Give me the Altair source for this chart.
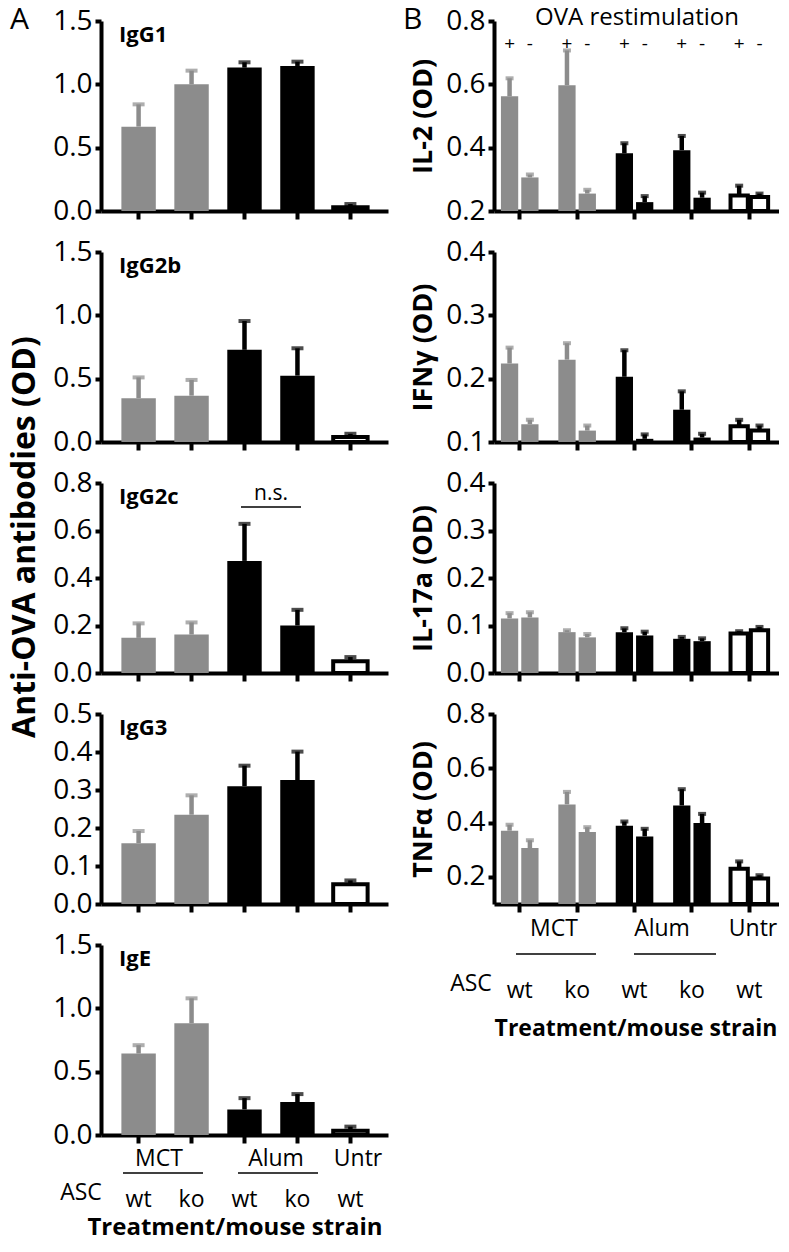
import altair as alt
import pandas as pd

# ---------------- data ----------------
groups = ["MCT wt", "MCT ko", "Alum wt", "Alum ko", "Untr wt"]
strains = ["wt", "ko", "wt", "ko", "wt"]
kinds = ["gray", "gray", "black", "black", "open"]

igg1_mean = [0.666, 1.000, 1.132, 1.145, 0.030]
igg1_sd = [0.176, 0.108, 0.042, 0.034, 0.025]
igg2b_mean = [0.346, 0.366, 0.728, 0.524, 0.040]
igg2b_sd = [0.164, 0.124, 0.227, 0.216, 0.025]
igg2c_mean = [0.148, 0.162, 0.472, 0.200, 0.050]
igg2c_sd = [0.061, 0.051, 0.156, 0.066, 0.017]
igg3_mean = [0.160, 0.235, 0.310, 0.326, 0.052]
igg3_sd = [0.032, 0.051, 0.054, 0.075, 0.010]
ige_mean = [0.643, 0.882, 0.202, 0.260, 0.034]
ige_sd = [0.066, 0.197, 0.089, 0.063, 0.032]

restim = ["+", "-"]
# order: MCT wt +, MCT wt -, MCT ko +, MCT ko -, Alum wt +, Alum wt -, Alum ko +, Alum ko -, Untr wt +, Untr wt -
il2_mean = [0.562, 0.306, 0.597, 0.255, 0.382, 0.228, 0.392, 0.242, 0.249, 0.244]
il2_sd = [0.057, 0.009, 0.110, 0.012, 0.032, 0.019, 0.045, 0.016, 0.031, 0.011]
ifng_mean = [0.224, 0.128, 0.230, 0.118, 0.203, 0.105, 0.151, 0.107, 0.125, 0.118]
ifng_sd = [0.025, 0.007, 0.026, 0.008, 0.042, 0.007, 0.029, 0.006, 0.010, 0.008]
il17_mean = [0.115, 0.117, 0.086, 0.075, 0.086, 0.079, 0.072, 0.067, 0.083, 0.090]
il17_sd = [0.011, 0.011, 0.004, 0.007, 0.008, 0.008, 0.004, 0.006, 0.005, 0.007]
tnf_mean = [0.370, 0.306, 0.467, 0.365, 0.388, 0.349, 0.463, 0.398, 0.230, 0.194]
tnf_sd = [0.022, 0.029, 0.046, 0.018, 0.016, 0.028, 0.060, 0.034, 0.027, 0.012]

# ---------------- style ----------------
FONT = "Open Sans"
GRAY = "#8c8c8c"
W, H = 287, 190
KIND_DOM = ["gray", "black", "open"]

groups_b = [g for g in groups for _ in restim]
kinds_b = [k for k in kinds for _ in restim]
restim_b = restim * len(groups)


def note(text, x, y, size=23, weight="normal", align="center", baseline="alphabetic", angle=0):
    return alt.Chart(pd.DataFrame({"t": [text]})).mark_text(
        font=FONT, fontSize=size, fontWeight=weight, align=align,
        baseline=baseline, angle=angle, color="black"
    ).encode(text="t:N", x=alt.value(x), y=alt.value(y))


def hline(x1, x2, y, width=1.6):
    return alt.Chart(pd.DataFrame({"t": [0]})).mark_rule(color="black", strokeWidth=width).encode(
        x=alt.value(x1), x2=alt.value(x2), y=alt.value(y))


def x_axis():
    return alt.Axis(labels=False, title=None, grid=False, domainColor="black", domainWidth=4,
                    tickColor="black", tickWidth=4, tickSize=8)


def y_axis(values, title):
    kw = dict(values=values, format=".1f", grid=False, domainColor="black", domainWidth=4,
              tickColor="black", tickWidth=4, tickSize=6, labelFont=FONT, labelFontSize=28,
              labelColor="black", labelPadding=3)
    if title is None:
        kw["title"] = None
    else:
        kw.update(title=title, titleFont=FONT, titleFontSize=27, titleFontWeight="bold",
                  titleColor="black", titlePadding=8)
    return alt.Axis(**kw)


def bar_layers(df, x, xo, ymin, ymax, yvals, ytitle, cap):
    base = alt.Chart(df).transform_calculate(top="datum.mean + datum.sd", base=f"{ymin}")
    yscale = alt.Scale(domain=[ymin, ymax], nice=False, zero=False)
    yax = y_axis(yvals, ytitle)

    def Y(f):
        return alt.Y(f, type="quantitative", scale=yscale, axis=yax)

    enc = dict(x=x)
    if xo is not None:
        enc["xOffset"] = xo
    err_color = alt.Color("kind:N", scale=alt.Scale(domain=KIND_DOM, range=[GRAY, "black", "black"]),
                          legend=None)
    stems = base.mark_rule(strokeWidth=4.5).encode(y=Y("mean"), y2="top", color=err_color, **enc)
    bars = base.mark_bar(stroke="black").encode(
        y=Y("mean"), y2="base",
        fill=alt.Fill("kind:N", scale=alt.Scale(domain=KIND_DOM, range=[GRAY, "black", "white"]),
                      legend=None),
        strokeWidth=alt.condition("datum.kind == 'open'", alt.value(4), alt.value(0)),
        **enc)
    caps = base.mark_tick(orient="horizontal", thickness=4, size=cap).encode(
        y=Y("top"), color=err_color, **enc)
    return base, [stems, bars, caps]


XA = alt.X("group:N", sort=groups, scale=alt.Scale(paddingInner=0.35, paddingOuter=0.385),
           axis=x_axis())
XB = alt.X("group:N", sort=groups,
           scale=alt.Scale(paddingInner=0.345, paddingOuter=0.1725, align=0.35),
           axis=x_axis())


def a_panel(label, means, sds, ymax, yvals, extra=()):
    df = pd.DataFrame({"group": groups, "kind": kinds, "mean": means, "sd": sds})
    base, layers = bar_layers(df, XA, None, 0.0, ymax, yvals, None, 12)
    layers.append(note(label, 18, 21, size=22, weight="bold", align="left"))
    layers.extend(extra)
    return alt.layer(*layers).properties(width=W, height=H)


def b_panel(title, means, sds, ymin, ymax, yvals, extra=(), top_signs=False, bottom=False):
    df = pd.DataFrame({"group": groups_b, "restim": restim_b, "kind": kinds_b,
                       "mean": means, "sd": sds})
    xo = alt.XOffset("restim:N", sort=restim, scale=alt.Scale(paddingInner=0.15))
    base, layers = bar_layers(df, XB, xo, ymin, ymax, yvals, title, 8)
    if top_signs:
        layers.append(base.mark_text(font=FONT, fontSize=19, baseline="middle", color="black").encode(
            x=XB, xOffset=xo, text="restim:N", y=alt.value(23)))
    if bottom:
        sdf = pd.DataFrame({"group": groups, "strain": strains})
        layers.append(alt.Chart(sdf).mark_text(font=FONT, fontSize=23, color="black").encode(
            x=XB, text="strain:N", y=alt.value(H + 87)))
    layers.extend(extra)
    return alt.layer(*layers).properties(width=W, height=H)


# ---------------- panels ----------------
strain_df = pd.DataFrame({"group": groups, "strain": strains})

A1 = a_panel("IgG1", igg1_mean, igg1_sd, 1.5, [0, 0.5, 1.0, 1.5],
             extra=[note("A", -91, 8, size=30, align="left")])
A2 = a_panel("IgG2b", igg2b_mean, igg2b_sd, 1.5, [0, 0.5, 1.0, 1.5])
A3 = a_panel("IgG2c", igg2c_mean, igg2c_sd, 0.8, [0, 0.2, 0.4, 0.6, 0.8],
             extra=[note("n.s.", 170, 17, size=21), hline(140, 200, 24),
                    note("Anti-OVA antibodies (OD)", -76, 54, size=32, weight="bold",
                         baseline="middle", angle=270)])
A4 = a_panel("IgG3", igg3_mean, igg3_sd, 0.5, [0, 0.1, 0.2, 0.3, 0.4, 0.5])
A5 = a_panel("IgE", ige_mean, ige_sd, 1.5, [0, 0.5, 1.0, 1.5],
             extra=[note("MCT", 58, H + 31), hline(22, 102, H + 38),
                    note("Alum", 175, H + 31), hline(137, 217, H + 38),
                    note("Untr", 257, H + 31),
                    note("ASC", -20, H + 65),
                    alt.Chart(strain_df).mark_text(font=FONT, fontSize=23, color="black").encode(
                        x=XA, text="strain:N", y=alt.value(H + 65)),
                    note("Treatment/mouse strain", 134, H + 100, size=24, weight="bold")])

B1 = b_panel("IL-2 (OD)", il2_mean, il2_sd, 0.2, 0.8, [0.2, 0.4, 0.6, 0.8], top_signs=True,
             extra=[note("B", -91, 8, size=30, align="left"),
                    note("OVA restimulation", 143, 4, size=24)])
B2 = b_panel("IFNγ (OD)", ifng_mean, ifng_sd, 0.1, 0.4, [0.1, 0.2, 0.3, 0.4])
B3 = b_panel("IL-17a (OD)", il17_mean, il17_sd, 0.0, 0.4, [0, 0.1, 0.2, 0.3, 0.4])
B4 = b_panel("TNFα (OD)", tnf_mean, tnf_sd, 0.1, 0.8, [0.2, 0.4, 0.6, 0.8], bottom=True,
             extra=[note("MCT", 60, H + 32), hline(22, 102, H + 50),
                    note("Alum", 168, H + 32), hline(140, 222, H + 50),
                    note("Untr", 259, H + 32),
                    note("ASC", -23, H + 87),
                    note("Treatment/mouse strain", 142, H + 132, size=23, weight="bold")])

chart = alt.concat(A1, B1, A2, B2, A3, B3, A4, B4, A5, columns=2,
                   spacing={"row": 41, "column": 106}, bounds="flush").properties(
    padding={"top": -3, "left": 0, "right": -2, "bottom": 0}
).configure(font=FONT).configure_view(stroke=None, strokeWidth=0)

chart.save("out.html", embed_options={"renderer": "svg", "actions": False})
